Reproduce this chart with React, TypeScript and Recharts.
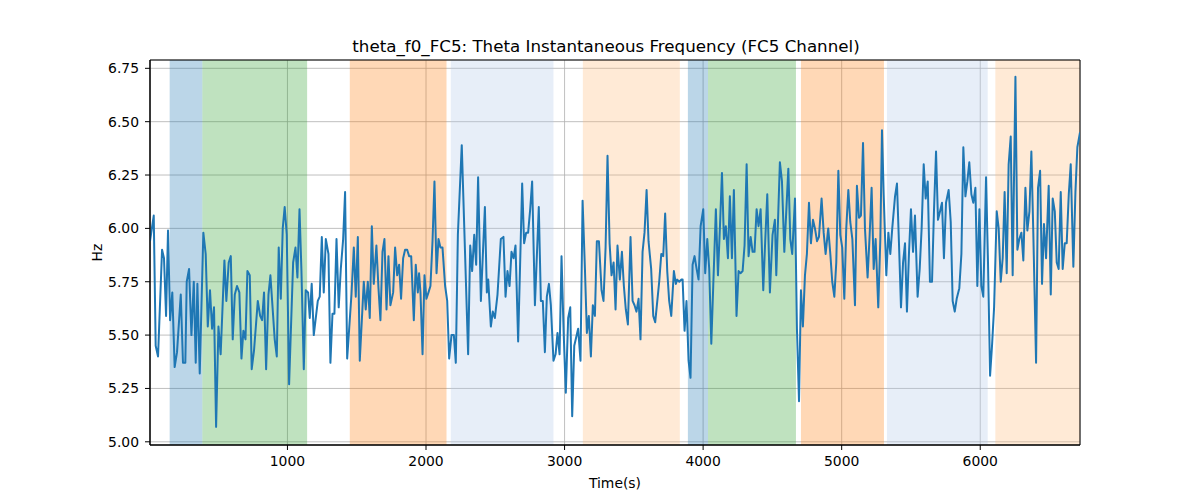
import React from "react";
import {
  CartesianGrid,
  Line,
  LineChart,
  ReferenceArea,
  XAxis,
  YAxis,
} from "recharts";

// sample times (s) of the FC5 theta instantaneous frequency trace
const timeS = [
  8, 35, 49, 66, 95, 109, 124, 138, 153, 169,
  186, 203, 230, 246, 263, 273, 290, 307, 324, 338,
  350, 367, 393, 410, 425, 441, 456, 470, 485, 502,
  518, 545, 559, 576, 591, 605, 620, 636, 653, 668,
  682, 697, 711, 728, 742, 759, 786, 803, 817, 831,
  846, 863, 877, 908, 923, 937, 952, 966, 980, 995,
  1012, 1041, 1058, 1072, 1087, 1101, 1118, 1132, 1149, 1161,
  1175, 1190, 1219, 1233, 1248, 1262, 1277, 1296, 1310, 1325,
  1339, 1354, 1370, 1385, 1402, 1416, 1431, 1462, 1479, 1493,
  1508, 1522, 1551, 1565, 1580, 1594, 1609, 1623, 1642, 1657,
  1671, 1686, 1700, 1715, 1729, 1743, 1763, 1777, 1792, 1806,
  1820, 1835, 1849, 1864, 1878, 1893, 1912, 1926, 1941, 1950,
  1960, 1975, 1989, 2003, 2018, 2032, 2047, 2061, 2076, 2090,
  2104, 2119, 2138, 2153, 2167, 2184, 2201, 2215, 2230, 2258,
  2304, 2319, 2333, 2348, 2362, 2376, 2396, 2425, 2439, 2449,
  2468, 2482, 2497, 2516, 2540, 2559, 2574, 2588, 2603, 2617,
  2632, 2646, 2665, 2694, 2708, 2723, 2737, 2752, 2766, 2786,
  2814, 2829, 2843, 2858, 2872, 2887, 2901, 2920, 2935, 2949,
  2964, 2978, 2993, 3009, 3026, 3041, 3055, 3070, 3084, 3098,
  3115, 3130, 3147, 3161, 3175, 3190, 3204, 3219, 3233, 3248,
  3267, 3281, 3296, 3310, 3325, 3339, 3354, 3368, 3382, 3399,
  3414, 3428, 3442, 3457, 3476, 3491, 3505, 3519, 3534, 3548,
  3563, 3577, 3592, 3606, 3625, 3640, 3654, 3683, 3698, 3712,
  3726, 3741, 3755, 3770, 3789, 3803, 3813, 3828, 3842, 3852,
  3866, 3880, 3895, 3909, 3924, 3938, 3953, 3967, 3982, 4001,
  4015, 4030, 4044, 4059, 4073, 4092, 4107, 4121, 4136, 4150,
  4164, 4179, 4193, 4208, 4222, 4241, 4256, 4270, 4285, 4299,
  4314, 4328, 4343, 4357, 4371, 4386, 4400, 4415, 4434, 4448,
  4463, 4482, 4501, 4518, 4528, 4554, 4569, 4586, 4615, 4629,
  4643, 4663, 4677, 4692, 4706, 4720, 4735, 4749, 4764, 4778,
  4793, 4807, 4822, 4836, 4855, 4870, 4884, 4903, 4918, 4932,
  4947, 4961, 4976, 4990, 5004, 5019, 5033, 5048, 5062, 5077,
  5096, 5110, 5125, 5139, 5154, 5168, 5187, 5202, 5216, 5231,
  5245, 5264, 5279, 5291, 5303, 5322, 5337, 5351, 5365, 5385,
  5399, 5414, 5428, 5443, 5457, 5471, 5486, 5500, 5515, 5529,
  5548, 5563, 5577, 5592, 5606, 5621, 5637, 5652, 5666, 5681,
  5695, 5710, 5724, 5738, 5753, 5772, 5787, 5801, 5816, 5830,
  5849, 5864, 5878, 5893, 5907, 5921, 5936, 5950, 5965, 5979,
  5994, 6008, 6022, 6042, 6056, 6071, 6085, 6100, 6119, 6133,
  6148, 6162, 6176, 6191, 6205, 6220, 6234, 6254, 6268, 6282,
  6297, 6311, 6326, 6340, 6355, 6369, 6383, 6403, 6417, 6432,
  6446, 6460, 6475, 6494, 6509, 6523, 6538, 6552, 6566, 6581,
  6595, 6610, 6624, 6639, 6653, 6672, 6687, 6701, 6720,
];

// frequency (Hz), same order as timeS
const thetaHz = [
  5.94, 6.06, 5.45, 5.4, 5.9, 5.86, 5.59, 5.99, 5.57, 5.7,
  5.35, 5.42, 5.69, 5.37, 5.37, 5.75, 5.81, 5.5, 5.75, 5.37,
  5.74, 5.32, 5.98, 5.88, 5.54, 5.71, 5.53, 5.63, 5.07, 5.54,
  5.41, 5.85, 5.66, 5.84, 5.87, 5.48, 5.69, 5.73, 5.7, 5.39,
  5.52, 5.48, 5.8, 5.78, 5.34, 5.43, 5.66, 5.59, 5.57, 5.7,
  5.34, 5.69, 5.78, 5.48, 5.4, 5.91, 5.67, 6.0, 6.1, 5.97,
  5.27, 5.84, 5.91, 5.77, 6.09, 5.8, 5.34, 5.71, 5.7, 5.58,
  5.74, 5.5, 5.66, 5.68, 5.96, 5.7, 5.95, 5.88, 5.37, 5.6,
  5.6, 5.95, 5.63, 5.81, 5.95, 6.17, 5.39, 5.69, 5.91, 5.68,
  5.96, 5.38, 5.75, 5.62, 5.75, 5.58, 6.01, 5.74, 5.92, 5.72,
  5.57, 5.89, 5.95, 5.62, 5.87, 5.64, 5.7, 5.91, 5.78, 5.83,
  5.67, 5.86, 5.9, 5.9, 5.87, 5.87, 5.57, 5.83, 5.7, 5.79,
  5.7, 5.41, 5.78, 5.67, 5.7, 5.73, 5.94, 6.22, 5.79, 5.95,
  5.91, 5.91, 5.73, 5.66, 5.39, 5.5, 5.5, 5.37, 5.97, 6.39,
  5.41, 5.92, 5.8, 5.97, 5.83, 6.24, 5.66, 6.1, 5.7, 5.76,
  5.54, 5.61, 5.58, 5.69, 5.95, 5.96, 5.68, 5.8, 5.73, 5.89,
  5.86, 5.92, 5.47, 6.21, 5.93, 5.98, 5.98, 6.09, 6.22, 5.64,
  6.1, 5.66, 5.66, 5.42, 5.68, 5.74, 5.64, 5.38, 5.41, 5.51,
  5.41, 5.87, 5.52, 5.23, 5.58, 5.63, 5.12, 5.45, 5.49, 5.53,
  5.38, 6.13, 5.81, 5.51, 5.59, 5.4, 5.64, 5.59, 5.94, 5.94,
  5.71, 5.66, 5.91, 6.34, 5.93, 5.78, 5.84, 5.62, 5.92, 5.76,
  5.89, 5.73, 5.62, 5.55, 5.96, 5.66, 5.64, 5.61, 5.67, 5.48,
  5.89, 5.98, 6.18, 5.94, 5.81, 5.59, 5.56, 5.75, 5.88, 5.87,
  6.07, 5.8, 5.66, 5.59, 5.8, 5.74, 5.76, 5.75, 5.76, 5.76,
  5.52, 5.66, 5.38, 5.3, 5.83, 5.87, 5.81, 5.76, 6.01, 6.09,
  5.79, 5.95, 5.81, 5.46, 5.73, 6.09, 5.78, 6.0, 6.26, 5.95,
  6.01, 5.86, 6.15, 5.86, 6.18, 5.59, 5.8, 5.79, 5.8, 5.92,
  6.3, 5.87, 5.96, 5.89, 5.89, 6.09, 6.01, 6.09, 5.71, 5.94,
  6.16, 5.7, 5.97, 6.04, 5.78, 6.31, 6.22, 5.89, 6.28, 5.95,
  5.88, 6.14, 5.53, 5.19, 5.71, 5.54, 5.78, 5.88, 6.12, 5.93,
  6.04, 6.0, 5.94, 5.96, 6.14, 5.98, 5.88, 6.0, 5.88, 5.75,
  5.68, 5.84, 6.27, 5.97, 5.91, 5.67, 6.0, 6.18, 6.03, 5.95,
  5.64, 6.2, 6.05, 6.06, 6.4, 6.0, 5.77, 5.97, 6.19, 5.81,
  5.95, 5.63, 5.95, 6.46, 6.16, 5.78, 5.98, 5.88, 6.0, 6.15,
  6.21, 5.92, 5.63, 5.84, 5.93, 5.61, 5.89, 6.09, 5.89, 6.06,
  5.68, 5.81, 6.0, 6.3, 6.14, 6.22, 5.75, 5.75, 6.08, 6.36,
  6.04, 6.08, 6.12, 5.86, 6.12, 6.18, 6.03, 5.66, 5.61, 5.67,
  5.72, 5.88, 6.38, 6.15, 6.22, 6.31, 6.16, 6.12, 6.19, 5.73,
  6.09, 5.73, 5.68, 6.24, 5.84, 5.31, 5.45, 5.63, 6.08, 6.0,
  5.75, 5.86, 6.17, 5.79, 6.3, 6.43, 5.78, 6.71, 5.9, 5.95,
  5.98, 5.85, 6.19, 5.99, 6.08, 6.36, 5.98, 5.37, 6.19, 6.27,
  5.74, 6.02, 5.86, 6.2, 5.69, 6.14, 6.08, 5.84, 5.81, 6.17,
  5.81, 5.93, 5.93, 6.16, 6.3, 5.82, 6.17, 6.38, 6.45,
];

// shaded task segments (s)
const bandStart = [150, 386, 1450, 2179, 3132, 3890, 4035, 4706, 5327, 6109];
const bandEnd = [386, 1142, 2148, 2920, 3832, 4035, 4670, 5305, 6054, 6720];
const bandKind = ["a", "b", "c", "d", "e", "a", "b", "c", "d", "e"];

const xTicks = [1000, 2000, 3000, 4000, 5000, 6000];
const yTicks = [5.0, 5.25, 5.5, 5.75, 6.0, 6.25, 6.5, 6.75];
const xDomain = [8, 6720];
const yDomain = [4.985, 6.789];

const bandColors: Record<string, string> = {
  a: "#1f77b4",
  b: "#2ca02c",
  c: "#ff7f0e",
  d: "#aec7e8",
  e: "#ffbb78",
};

const data = timeS.map((t, i) => ({ t, hz: thetaHz[i] }));

const FONT = "'DejaVu Sans', sans-serif";
const tickStyle = { fill: "#000", fontSize: 13.9, fontFamily: FONT };

const HzLabel = (props: any) => {
  const { viewBox } = props;
  const x = viewBox.x + viewBox.width - 53;
  const y = viewBox.y + viewBox.height / 2;
  return (
    <text
      x={x}
      y={y}
      transform={`rotate(-90, ${x}, ${y})`}
      textAnchor="middle"
      dominantBaseline="central"
      fontSize={13.9}
      fontFamily={FONT}
      fill="#000"
    >
      Hz
    </text>
  );
};

export default function App() {
  return (
    <div
      style={{
        position: "absolute",
        left: 0,
        top: 0,
        width: 1200,
        height: 500,
        background: "#fff",
        fontFamily: FONT,
      }}
    >
      <div
        style={{
          position: "absolute",
          top: 36,
          left: 0,
          width: 1212,
          textAlign: "center",
          fontSize: 16.7,
          lineHeight: "20px",
          color: "#000",
        }}
      >
        theta_f0_FC5: Theta Instantaneous Frequency (FC5 Channel)
      </div>
      <LineChart
        width={1200}
        height={500}
        data={data}
        margin={{ top: 60, right: 120, bottom: 0, left: 0 }}
      >
        {bandStart.map((s, i) => (
          <ReferenceArea
            key={i}
            x1={s}
            x2={bandEnd[i]}
            y1={yDomain[0]}
            y2={yDomain[1]}
            fill={bandColors[bandKind[i]]}
            fillOpacity={0.3}
            stroke="none"
          />
        ))}
        <CartesianGrid stroke="#b0b0b0" strokeWidth={0.8} />
        <XAxis
          dataKey="t"
          type="number"
          domain={xDomain}
          ticks={xTicks}
          allowDataOverflow
          height={55}
          tick={tickStyle}
          tickSize={5}
          tickMargin={6}
          tickLine={{ stroke: "#000" }}
          axisLine={{ stroke: "#000" }}
          label={{
            value: "Time(s)",
            position: "insideBottom",
            offset: 12,
            fill: "#000",
            fontSize: 13.9,
            fontFamily: FONT,
          }}
        />
        <YAxis
          type="number"
          domain={yDomain}
          ticks={yTicks}
          allowDataOverflow
          width={150}
          tick={tickStyle}
          tickSize={5}
          tickMargin={6}
          tickLine={{ stroke: "#000" }}
          axisLine={{ stroke: "#000" }}
          tickFormatter={(v: number) => v.toFixed(2)}
          label={{ content: HzLabel }}
        />
        <Line
          dataKey="hz"
          type="linear"
          stroke="#1f77b4"
          strokeWidth={2}
          strokeLinejoin="round"
          dot={false}
          activeDot={false}
          isAnimationActive={false}
        />
        <ReferenceArea
          x1={xDomain[0]}
          x2={xDomain[1]}
          y1={yDomain[0]}
          y2={yDomain[1]}
          fill="none"
          stroke="#000"
          strokeWidth={1}
        />
      </LineChart>
    </div>
  );
}
